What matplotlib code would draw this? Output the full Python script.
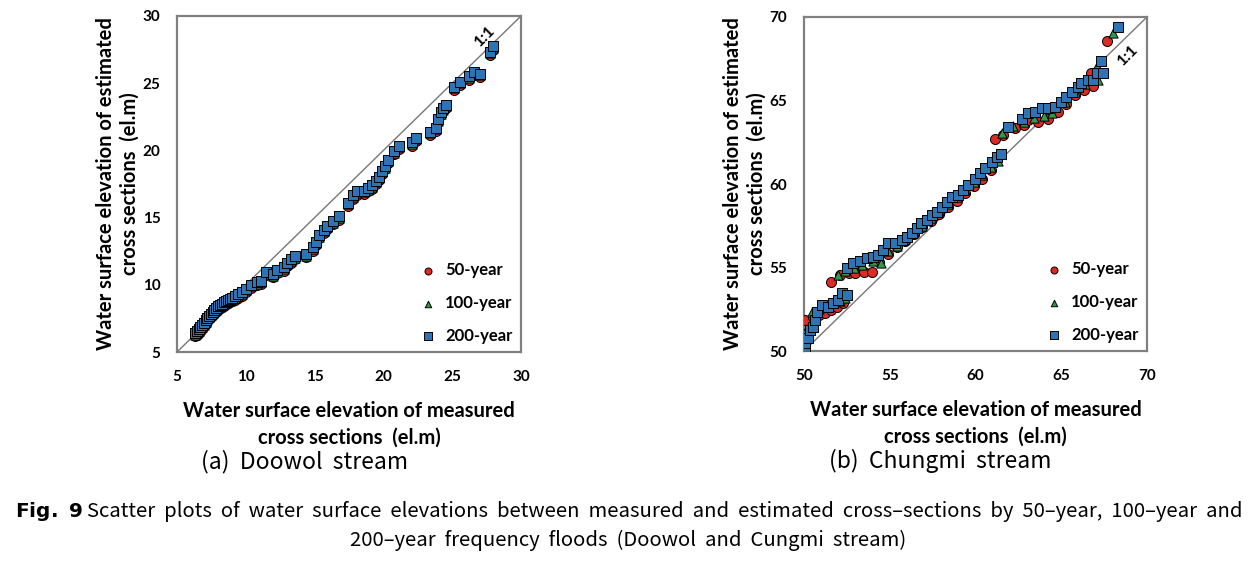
import matplotlib.pyplot as plt

plt.rcParams["font.family"] = ["Lato", "DejaVu Sans"]

# ---- (a) Doowol stream: measured vs estimated water surface elevation ----
doowol_measured = [
    6.3, 6.45, 6.6, 6.7, 6.8, 6.95, 7.1, 7.2, 7.3, 7.45, 7.6, 7.7, 7.8, 7.95,
    8.1, 8.25, 8.4, 8.55, 8.7, 8.85, 9.0, 9.2, 9.4, 9.7, 10.0, 10.4,
    10.8, 11.1, 11.5, 12.0, 12.3, 12.75, 13.0, 13.3, 13.6, 14.4, 14.9, 15.1,
    15.35, 15.65, 15.9, 16.35, 16.75, 17.4, 17.8, 18.1, 18.6, 18.9, 19.15,
    19.45, 19.7, 19.9, 20.1, 20.35, 20.8, 21.1, 22.1, 22.4, 23.4, 23.8, 24.0,
    24.15, 24.35, 24.55, 25.15, 25.6, 26.2, 26.6, 27.0, 27.75, 27.95,
]
doowol_50 = [
    6.2, 6.3, 6.45, 6.6, 6.75, 6.9, 7.1, 7.3, 7.45, 7.6, 7.75, 7.9, 8.0, 8.15,
    8.25, 8.35, 8.45, 8.55, 8.65, 8.7, 8.8, 8.9, 9.05, 9.2, 9.45, 9.75,
    9.95, 10.05, 10.7, 10.55, 10.85, 11.05, 11.4, 11.65, 11.9, 12.05, 12.55,
    12.95, 13.45, 13.85, 14.15, 14.5, 14.85, 15.85, 16.4, 16.7, 16.75, 16.95,
    17.15, 17.5, 17.8, 18.25, 18.6, 19.05, 19.7, 20.1, 20.35, 20.7, 21.15,
    21.45, 22.1, 22.6, 22.9, 23.15, 24.5, 24.85, 25.25, 25.6, 25.45, 27.1, 27.5,
]
doowol_100 = [
    6.3, 6.42, 6.58, 6.72, 6.88, 7.02, 7.22, 7.42, 7.58, 7.72, 7.88, 8.02,
    8.12, 8.28, 8.38, 8.48, 8.58, 8.68, 8.78, 8.82, 8.92, 9.02, 9.18, 9.32,
    9.58, 9.88, 10.08, 10.18, 10.82, 10.68, 10.98, 11.18, 11.52, 11.78, 12.02,
    12.18, 12.68, 13.08, 13.58, 13.98, 14.28, 14.62, 14.98, 15.98, 16.52,
    16.82, 16.88, 17.08, 17.28, 17.62, 17.92, 18.38, 18.72, 19.18, 19.82,
    20.22, 20.48, 20.82, 21.28, 21.58, 22.22, 22.72, 23.02, 23.28, 24.62,
    24.98, 25.38, 25.72, 25.58, 27.22, 27.62,
]
doowol_200 = [
    6.4, 6.55, 6.7, 6.85, 7.0, 7.15, 7.35, 7.55, 7.7, 7.85, 8.0, 8.15, 8.25,
    8.4, 8.5, 8.6, 8.7, 8.8, 8.9, 8.95, 9.05, 9.15, 9.3, 9.45, 9.7, 10.0,
    10.2, 10.3, 10.95, 10.8, 11.1, 11.3, 11.65, 11.9, 12.15, 12.3, 12.8, 13.2,
    13.7, 14.1, 14.4, 14.75, 15.1, 16.1, 16.65, 16.95, 17.0, 17.2, 17.4,
    17.75, 18.05, 18.5, 18.85, 19.3, 19.95, 20.35, 20.6, 20.95, 21.4, 21.7,
    22.35, 22.85, 23.15, 23.4, 24.75, 25.1, 25.5, 25.85, 25.7, 27.35, 27.75,
]

# ---- (b) Chungmi stream ----
chungmi_50_x = [
    50.06, 50.5, 50.9, 51.25, 51.6, 51.95, 52.3, 51.57, 52.1, 52.6, 53.0,
    53.5, 53.95, 54.4, 54.9, 55.4, 55.9, 56.4, 56.9, 57.4, 57.9, 58.4, 58.9,
    59.4, 59.9, 60.4, 60.9, 61.14, 61.6, 62.31, 62.8, 63.08, 63.67, 64.2,
    64.8, 65.3, 65.8, 66.3, 66.73, 66.84, 67.65,
]
chungmi_50_y = [
    51.86, 52.05, 52.15, 52.26, 52.45, 52.65, 52.85, 54.15, 54.55, 54.65,
    54.7, 54.75, 54.75, 55.35, 55.8, 56.2, 56.6, 57.0, 57.4, 57.8, 58.2,
    58.6, 59.0, 59.45, 59.9, 60.3, 60.85, 62.68, 62.95, 63.34, 63.55, 63.83,
    63.73, 63.9, 64.3, 64.8, 65.3, 65.6, 66.67, 65.87, 68.56,
]
chungmi_100_x = [
    50.06, 50.45, 50.9, 51.3, 51.7, 52.1, 52.4, 51.99, 52.4, 52.9, 53.4,
    54.0, 54.49, 54.9, 55.4, 55.9, 56.4, 56.9, 57.4, 57.9, 58.4, 58.9, 59.4,
    59.9, 60.4, 60.9, 61.3, 61.57, 62.2, 62.8, 63.4, 64.0, 64.44, 65.2,
    65.8, 66.4, 67.16, 67.07, 68.04,
]
chungmi_100_y = [
    51.16, 52.35, 52.5, 52.7, 52.85, 53.0, 53.2, 54.55, 54.8, 55.0, 55.15,
    55.4, 55.29, 56.0, 56.3, 56.7, 57.1, 57.5, 57.95, 58.4, 58.8, 59.2,
    59.65, 60.1, 60.55, 61.0, 61.35, 63.04, 63.45, 63.7, 63.95, 64.1, 64.23,
    64.9, 65.5, 66.0, 66.23, 67.07, 69.06,
]
chungmi_200_x = [
    50.06, 50.06, 50.25, 50.35, 50.54, 50.64, 50.74, 51.03, 51.42, 51.71,
    52.0, 52.2, 52.49,
    52.49, 52.87, 53.27, 53.66, 54.04, 54.33, 54.62, 54.92, 55.31, 55.7,
    55.99, 56.28, 56.57, 56.82, 57.15, 57.45, 57.74, 58.03, 58.32, 58.61,
    59.0, 59.29, 59.58, 59.97, 60.26, 60.55, 60.94, 61.24, 61.49,
    61.92, 62.69, 63.08, 63.47, 63.86, 64.25, 64.64, 64.99, 65.27, 65.62,
    65.99, 66.15, 66.55, 66.88, 67.07, 67.46, 67.32, 68.33,
]
chungmi_200_y = [
    50.22, 50.46, 50.76, 51.26, 51.46, 51.86, 52.35, 52.75, 52.65, 52.89,
    53.05, 53.45, 53.35,
    54.95, 55.25, 55.41, 55.55, 55.65, 55.75, 56.05, 56.45, 56.45, 56.65,
    56.84, 57.05, 57.35, 57.65, 57.84, 58.14, 58.34, 58.64, 58.94, 59.24,
    59.34, 59.64, 59.94, 60.28, 60.64, 60.94, 61.33, 61.63, 61.8,
    63.43, 63.87, 64.23, 64.33, 64.53, 64.53, 64.59, 64.93, 65.19, 65.53,
    65.83, 66.07, 66.23, 66.23, 66.63, 66.63, 67.38, 69.42,
]

series_labels = ["50-year", "100-year", "200-year"]
colors = ["#dc2b24", "#2f9a4c", "#2e74b5"]
markers = ["o", "^", "s"]
sizes = [52, 44, 54]

fig = plt.figure(figsize=(12.57, 5.61), dpi=100)
ax_a = fig.add_axes([0.1408, 0.3725, 0.2737, 0.599])
ax_b = fig.add_axes([0.6396, 0.3743, 0.2729, 0.5954])

panels = [
    (ax_a, [(doowol_measured, doowol_50), (doowol_measured, doowol_100),
            (doowol_measured, doowol_200)], (5, 30), (27.4, 28.5)),
    (ax_b, [(chungmi_50_x, chungmi_50_y), (chungmi_100_x, chungmi_100_y),
            (chungmi_200_x, chungmi_200_y)], (50, 70), (68.9, 67.7)),
]

for ax, data, lim, pos11 in panels:
    ax.plot(lim, lim, color="#777777", linewidth=1.0, zorder=1)
    for (xs, ys), lab, c, m, s in zip(data, series_labels, colors, markers, sizes):
        ax.scatter(xs, ys, s=s, marker=m, facecolor=c, edgecolor="black",
                   linewidth=0.7, label=lab, zorder=3)
    ax.set_xlim(lim)
    ax.set_ylim(lim)
    ticks = list(range(lim[0], lim[1] + 1, 5))
    ax.set_xticks(ticks)
    ax.set_yticks(ticks)
    ax.tick_params(axis="x", length=0, labelsize=11, pad=13)
    ax.tick_params(axis="y", length=0, labelsize=11, pad=12)
    for t in ax.get_xticklabels() + ax.get_yticklabels():
        t.set_fontweight("bold")
    for sp in ax.spines.values():
        sp.set_color("#808080")
        sp.set_linewidth(1.6)
    ax.text(pos11[0], pos11[1], "1:1", rotation=45, ha="center", va="center",
            fontsize=11.5, fontweight="bold", zorder=4)
    ax.legend(loc="lower right", frameon=False, labelspacing=1.0,
              handletextpad=0.05, markerscale=0.7, borderaxespad=0.1,
              prop={"weight": "bold", "size": 12})
    ax.set_xlabel("Water surface elevation of measured\ncross sections  (el.m)",
                  fontsize=14.5, fontweight="bold", labelpad=12, linespacing=1.45)
    ax.set_ylabel("Water surface elevation of estimated\ncross sections  (el.m)",
                  fontsize=14.5, fontweight="bold", labelpad=2, linespacing=1.25)

# sub-captions and figure caption
cap_font = ["Noto Sans CJK KR", "DejaVu Sans"]
fig.text(0.2426, 0.178, "(a)  Doowol  stream", ha="center", va="center",
         fontsize=16.5, family=cap_font)
fig.text(0.748, 0.178, "(b)  Chungmi  stream", ha="center", va="center",
         fontsize=16.5, family=cap_font)
fig.text(0.012, 0.089, r"$\mathbf{Fig.\ 9}$", ha="left", va="center", fontsize=14.5)
fig.text(0.069, 0.089,
         "Scatter  plots  of  water  surface  elevations  between  measured  and  "
         "estimated  cross\u2013sections  by  50\u2013year,  100\u2013year  and",
         ha="left", va="center", fontsize=14.6, family=cap_font)
fig.text(0.5, 0.037,
         "200\u2013year  frequency  floods  (Doowol  and  Cungmi  stream)",
         ha="center", va="center", fontsize=14.6, family=cap_font)

fig.savefig("out.png", dpi=100)
